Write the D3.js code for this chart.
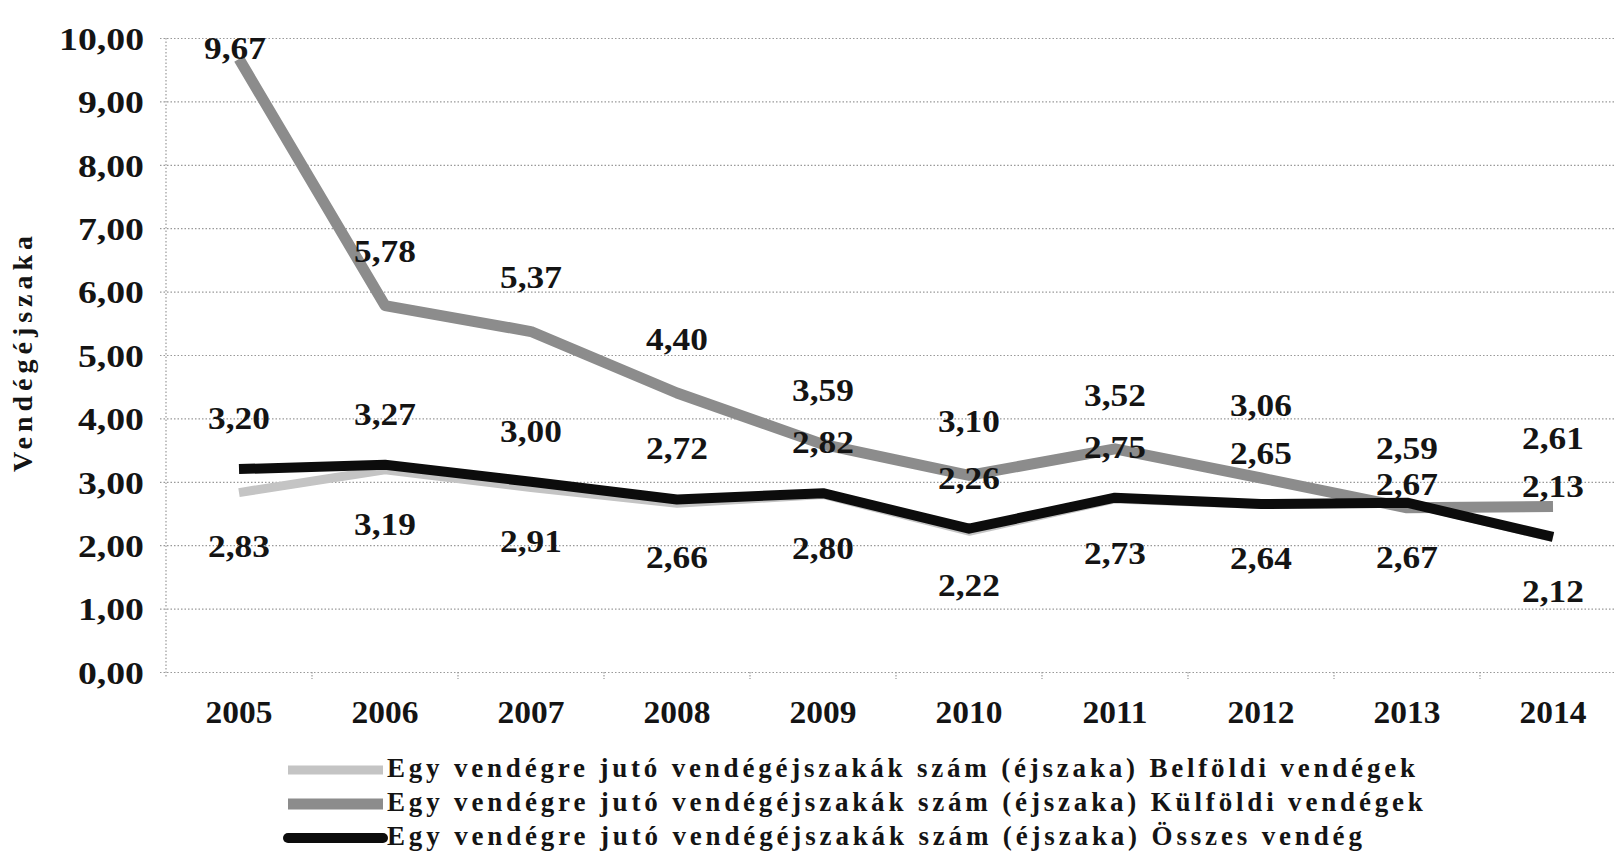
<!DOCTYPE html>
<html>
<head>
<meta charset="utf-8">
<script src="https://cdn.jsdelivr.net/npm/d3@7"></script>
<style>
    body { margin: 0; background: #fff; }
    svg text { font-family: "Liberation Serif", "Times New Roman", serif; font-weight: bold; fill: #141414; }
</style>
</head>
<body>
<div id="chart"></div>
<script>
let years = ["2005", "2006", "2007", "2008", "2009", "2010", "2011", "2012", "2013", "2014"];
let belfoldi = [2.83, 3.19, 2.91, 2.66, 2.80, 2.22, 2.73, 2.64, 2.67, 2.12];
let kulfoldi = [9.67, 5.78, 5.37, 4.40, 3.59, 3.10, 3.52, 3.06, 2.59, 2.61];
let osszes = [3.20, 3.27, 3.00, 2.72, 2.82, 2.26, 2.75, 2.65, 2.67, 2.13];
let yTicks = [0, 1, 2, 3, 4, 5, 6, 7, 8, 9, 10];
let seriesNames = [
    "Egy vendégre jutó vendégéjszakák szám (éjszaka) Belföldi vendégek",
    "Egy vendégre jutó vendégéjszakák szám (éjszaka) Külföldi vendégek",
    "Egy vendégre jutó vendégéjszakák szám (éjszaka) Összes vendég"
];
let yTitle = "Vendégéjszaka";

let chartWidth = 1615, chartHeight = 861;
let plotLeft = 166, plotTop = 38, plotBottom = 672;

let svg = d3.select("#chart").append("svg")
    .attr("width", chartWidth)
    .attr("height", chartHeight);

let x = d3.scaleBand().domain(years).range([plotLeft, plotLeft + 146 * years.length]);
let y = d3.scaleLinear().domain([0, 10]).range([plotBottom, plotTop]);
let cx = d => x(d) + x.bandwidth() / 2;
let fmt = d => d3.format(".2f")(d).replace(".", ",");

//the scan is a bit wider than the font, stretch the glyphs
function Widen(sel, k) {
    sel.each(function () {
        let len = this.getComputedTextLength();
        d3.select(this).attr("textLength", len * k).attr("lengthAdjust", "spacingAndGlyphs");
    });
}

//gridlines
let grid = svg.append("g")
    .attr("transform", "translate(" + (plotLeft - 6) + ",0)")
    .call(d3.axisLeft(y).tickValues(yTicks).tickSize(-(chartWidth - plotLeft + 6)).tickFormat(""));
grid.select(".domain").remove();
grid.selectAll("line")
    .style("stroke", "#999")
    .style("stroke-width", 1.2)
    .style("stroke-dasharray", "1.5,2");

//vertical axis line
svg.append("line")
    .attr("x1", plotLeft).attr("x2", plotLeft)
    .attr("y1", plotTop).attr("y2", plotBottom + 6)
    .style("stroke", "#999")
    .style("stroke-width", 1.2)
    .style("stroke-dasharray", "1.5,2");

//category tick marks below the axis
svg.append("g").selectAll("line")
    .data(years.slice(1))
    .join("line")
    .attr("x1", d => x(d)).attr("x2", d => x(d))
    .attr("y1", plotBottom).attr("y2", plotBottom + 7)
    .style("stroke", "#999")
    .style("stroke-width", 1.2)
    .style("stroke-dasharray", "1.5,1.5");

//y labels
let yAxis = svg.append("g")
    .attr("transform", "translate(" + plotLeft + ",0)")
    .call(d3.axisLeft(y).tickValues(yTicks).tickSize(0).tickPadding(22).tickFormat(fmt));
yAxis.select(".domain").remove();
yAxis.attr("font-family", null).attr("font-size", null);
yAxis.selectAll("text")
    .attr("font-size", 32)
    .attr("dy", ".35em")
    .call(Widen, 1.18);

//x labels
let xAxis = svg.append("g")
    .attr("transform", "translate(0," + plotBottom + ")")
    .call(d3.axisBottom(x).tickSize(0));
xAxis.select(".domain").remove();
xAxis.attr("font-family", null).attr("font-size", null);
xAxis.selectAll("text")
    .attr("y", 40)
    .attr("dy", ".35em")
    .attr("font-size", 31)
    .call(Widen, 1.08);

//y title
svg.append("text")
    .attr("transform", "translate(32," + 354 + ") rotate(-90)")
    .attr("text-anchor", "middle")
    .attr("font-size", 28)
    .attr("textLength", 236)
    .attr("lengthAdjust", "spacing")
    .text(yTitle);

//lines
let series = [
    {values: belfoldi, color: "#c4c4c4", width: 9, dy: 54},
    {values: kulfoldi, color: "#8c8c8c", width: 11, dy: -54},
    {values: osszes, color: "#0c0c0c", width: 10, dy: -51}
];
let line = d3.line()
    .x((d, i) => cx(years[i]))
    .y(d => y(d));

series.forEach(s => {
    svg.append("path")
        .datum(s.values)
        .attr("d", line)
        .style("fill", "none")
        .style("stroke", s.color)
        .style("stroke-width", s.width)
        .style("stroke-linejoin", "round");
});

//data labels, with a little nudging where the foreign and total labels collide
let labelY = series.map(s => s.values.map(v => y(v) + s.dy));
labelY[1] = labelY[1].map(v => Math.max(v, 48));
labelY[1].forEach((ky, i) => {
    let oy = labelY[2][i];
    if (oy - ky < 22) {
        labelY[1][i] = ky - 6;
        labelY[2][i] = ky + 30;
    }
    else if (oy - ky < 40) labelY[1][i] = oy - 48;
});

series.forEach((s, si) => {
    svg.append("g").selectAll("text")
        .data(s.values)
        .join("text")
        .attr("x", (d, i) => cx(years[i]) + (si == 1 && i == 0 ? -4 : 0))
        .attr("y", (d, i) => labelY[si][i])
        .attr("dy", ".35em")
        .attr("text-anchor", "middle")
        .attr("font-size", 31)
        .text(fmt)
        .call(Widen, 1.14);
});

//legend
let legendY = [768, 802, 836];
let legend = svg.append("g");
let texts = [];
series.forEach((s, i) => {
    legend.append("line")
        .attr("x1", 288).attr("x2", 383)
        .attr("y1", legendY[i] + 2).attr("y2", legendY[i] + 2)
        .style("stroke", s.color)
        .style("stroke-width", s.width)
        .style("stroke-linecap", i == 2 ? "round" : "butt");
    texts.push(legend.append("text")
        .attr("x", 387)
        .attr("y", legendY[i])
        .attr("dy", ".35em")
        .attr("font-size", 27)
        .text(seriesNames[i]));
});
let stretch = 1028 / texts[0].node().getComputedTextLength();
texts.forEach(t => {
    t.attr("textLength", t.node().getComputedTextLength() * stretch)
        .attr("lengthAdjust", "spacing");
});
</script>
</body>
</html>
